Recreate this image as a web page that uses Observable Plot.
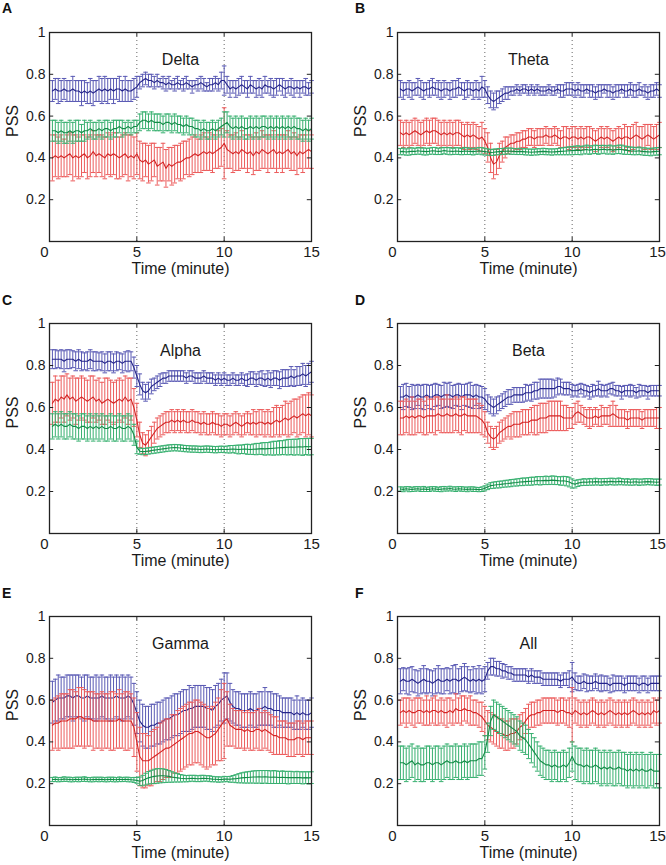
<!DOCTYPE html>
<html><head><meta charset="utf-8">
<script src="https://cdn.jsdelivr.net/npm/d3@7"></script>
<script src="https://cdn.jsdelivr.net/npm/@observablehq/plot@0.6"></script>
<style>
body{margin:0;background:#fff;}
#wrap{position:relative;width:666px;height:865px;overflow:hidden;font-family:"Liberation Sans",Arial,sans-serif;}
.panel{position:absolute;}
.letter{position:absolute;font:bold 14px "Liberation Sans",Arial,sans-serif;color:#111;line-height:14px;}
</style></head><body><div id="wrap"></div>
<script>
// ---- axes ----
const xTicks = [0, 5, 10, 15];
const yTicks = [0.2, 0.4, 0.6, 0.8, 1];
const eventTimes = [5, 10];
const panelLetters = ["A","B","C","D","E","F"];
const panelTitles = ["Delta","Theta","Alpha","Beta","Gamma","All"];
const nSamples = 90; // one sample every 10 s over 15 min

// ---- A: Delta ----
const deltaBlue = [
0.72,0.73,0.72,0.72,0.73,0.72,0.72,0.73,0.72,0.72,
0.71,0.72,0.71,0.72,0.71,0.72,0.73,0.72,0.73,0.72,
0.73,0.72,0.73,0.73,0.72,0.73,0.72,0.72,0.73,0.74,
0.76,0.77,0.78,0.77,0.77,0.76,0.77,0.76,0.76,0.75,
0.76,0.75,0.75,0.76,0.75,0.75,0.76,0.75,0.74,0.75,
0.75,0.76,0.75,0.74,0.75,0.75,0.76,0.75,0.77,0.77,
0.75,0.73,0.74,0.73,0.74,0.75,0.74,0.73,0.75,0.74,
0.73,0.74,0.73,0.75,0.74,0.74,0.73,0.74,0.75,0.74,
0.73,0.74,0.74,0.73,0.74,0.73,0.74,0.74,0.73,0.74];
const deltaBlueErr = [
0.05,0.05,0.06,0.05,0.05,0.05,0.05,0.06,0.05,0.05,
0.06,0.05,0.05,0.06,0.06,0.05,0.06,0.06,0.06,0.06,
0.05,0.06,0.05,0.06,0.05,0.06,0.05,0.05,0.05,0.05,
0.03,0.03,0.03,0.03,0.03,0.03,0.03,0.02,0.03,0.03,
0.03,0.02,0.03,0.03,0.02,0.03,0.03,0.02,0.03,0.02,
0.03,0.03,0.03,0.02,0.03,0.03,0.03,0.03,0.04,0.07,
0.04,0.04,0.03,0.04,0.04,0.04,0.03,0.04,0.04,0.03,
0.04,0.04,0.04,0.04,0.03,0.04,0.04,0.04,0.03,0.04,
0.04,0.03,0.04,0.04,0.03,0.04,0.03,0.04,0.03,0.03];
const deltaRed = [
0.40,0.41,0.40,0.41,0.40,0.41,0.42,0.40,0.41,0.40,
0.41,0.42,0.40,0.41,0.43,0.41,0.42,0.41,0.40,0.42,
0.41,0.42,0.41,0.40,0.41,0.42,0.40,0.41,0.40,0.42,
0.39,0.38,0.39,0.37,0.38,0.39,0.36,0.37,0.38,0.35,
0.37,0.36,0.37,0.38,0.38,0.39,0.40,0.40,0.41,0.42,
0.41,0.42,0.43,0.42,0.43,0.42,0.43,0.44,0.45,0.47,
0.44,0.43,0.42,0.43,0.42,0.44,0.43,0.42,0.43,0.41,
0.43,0.42,0.44,0.43,0.42,0.43,0.44,0.42,0.43,0.42,
0.43,0.44,0.42,0.43,0.41,0.43,0.42,0.43,0.44,0.43];
const deltaRedErr = [
0.11,0.10,0.10,0.10,0.09,0.10,0.10,0.11,0.10,0.10,
0.10,0.09,0.10,0.10,0.10,0.10,0.09,0.10,0.10,0.10,
0.10,0.10,0.11,0.10,0.10,0.10,0.11,0.10,0.10,0.10,
0.09,0.09,0.08,0.09,0.09,0.08,0.09,0.08,0.09,0.09,
0.08,0.09,0.09,0.08,0.09,0.09,0.08,0.09,0.09,0.09,
0.08,0.09,0.09,0.08,0.09,0.09,0.08,0.09,0.09,0.17,
0.09,0.08,0.09,0.09,0.08,0.09,0.08,0.09,0.08,0.09,
0.09,0.08,0.09,0.08,0.09,0.08,0.09,0.09,0.08,0.09,
0.08,0.09,0.08,0.09,0.09,0.08,0.09,0.08,0.09,0.08];
const deltaGreen = [
0.53,0.53,0.52,0.53,0.52,0.52,0.53,0.52,0.53,0.53,
0.52,0.53,0.53,0.54,0.53,0.53,0.54,0.53,0.54,0.54,
0.53,0.54,0.54,0.55,0.54,0.54,0.55,0.54,0.55,0.55,
0.57,0.58,0.58,0.57,0.58,0.57,0.57,0.57,0.56,0.57,
0.57,0.56,0.57,0.56,0.56,0.55,0.56,0.55,0.55,0.54,
0.54,0.53,0.54,0.53,0.53,0.54,0.53,0.54,0.55,0.56,
0.57,0.55,0.54,0.55,0.54,0.55,0.54,0.54,0.55,0.54,
0.55,0.54,0.55,0.55,0.54,0.55,0.54,0.55,0.54,0.55,
0.54,0.55,0.54,0.55,0.54,0.54,0.53,0.54,0.53,0.54];
const deltaGreenErr = [
0.05,0.05,0.05,0.05,0.05,0.05,0.05,0.05,0.05,0.05,
0.04,0.05,0.04,0.04,0.04,0.04,0.04,0.04,0.04,0.04,
0.04,0.04,0.04,0.03,0.04,0.03,0.03,0.03,0.03,0.03,
0.04,0.04,0.04,0.04,0.04,0.04,0.04,0.04,0.04,0.04,
0.04,0.04,0.04,0.04,0.04,0.04,0.04,0.04,0.04,0.04,
0.04,0.04,0.04,0.04,0.04,0.04,0.04,0.04,0.04,0.06,
0.05,0.05,0.05,0.05,0.05,0.05,0.05,0.05,0.05,0.05,
0.05,0.05,0.05,0.05,0.05,0.05,0.05,0.05,0.05,0.05,
0.05,0.05,0.05,0.05,0.05,0.05,0.05,0.05,0.05,0.05];

// ---- B: Theta ----
const thetaBlue = [
0.73,0.72,0.73,0.73,0.72,0.73,0.74,0.73,0.72,0.73,
0.73,0.74,0.73,0.73,0.72,0.73,0.73,0.72,0.73,0.73,
0.74,0.73,0.72,0.73,0.73,0.72,0.73,0.72,0.74,0.73,
0.70,0.68,0.67,0.68,0.69,0.70,0.71,0.71,0.72,0.72,
0.73,0.72,0.73,0.73,0.72,0.73,0.72,0.73,0.72,0.72,
0.72,0.73,0.72,0.72,0.73,0.72,0.72,0.73,0.73,0.73,
0.72,0.73,0.72,0.72,0.73,0.72,0.72,0.71,0.72,0.72,
0.73,0.72,0.72,0.71,0.72,0.72,0.73,0.72,0.72,0.73,
0.72,0.72,0.73,0.72,0.72,0.71,0.72,0.72,0.73,0.72];
const thetaBlueErr = [
0.04,0.04,0.03,0.04,0.04,0.03,0.04,0.04,0.04,0.03,
0.04,0.04,0.03,0.04,0.04,0.04,0.03,0.04,0.04,0.04,
0.04,0.03,0.04,0.04,0.03,0.04,0.04,0.04,0.05,0.04,
0.04,0.04,0.04,0.04,0.03,0.03,0.03,0.03,0.02,0.02,
0.02,0.02,0.02,0.02,0.02,0.02,0.02,0.02,0.02,0.02,
0.02,0.02,0.02,0.02,0.02,0.03,0.03,0.03,0.03,0.03,
0.03,0.03,0.03,0.03,0.02,0.03,0.03,0.03,0.03,0.03,
0.02,0.03,0.03,0.03,0.03,0.03,0.02,0.03,0.03,0.03,
0.03,0.03,0.03,0.02,0.03,0.03,0.03,0.03,0.03,0.03];
const thetaRed = [
0.52,0.51,0.52,0.51,0.52,0.53,0.52,0.51,0.52,0.53,
0.52,0.53,0.53,0.52,0.51,0.52,0.51,0.52,0.51,0.52,
0.52,0.51,0.50,0.51,0.50,0.51,0.50,0.49,0.50,0.48,
0.45,0.40,0.37,0.38,0.41,0.43,0.45,0.46,0.47,0.47,
0.48,0.48,0.49,0.49,0.50,0.50,0.49,0.50,0.50,0.50,
0.51,0.50,0.50,0.51,0.50,0.49,0.50,0.50,0.49,0.50,
0.50,0.49,0.50,0.49,0.50,0.50,0.49,0.48,0.49,0.50,
0.49,0.50,0.49,0.48,0.49,0.50,0.49,0.50,0.50,0.49,
0.50,0.51,0.50,0.49,0.50,0.51,0.50,0.49,0.50,0.51];
const thetaRedErr = [
0.06,0.06,0.06,0.06,0.06,0.06,0.06,0.06,0.06,0.06,
0.06,0.06,0.06,0.06,0.06,0.06,0.06,0.06,0.06,0.06,
0.06,0.06,0.06,0.06,0.06,0.06,0.06,0.06,0.07,0.06,
0.07,0.07,0.07,0.06,0.06,0.05,0.05,0.04,0.04,0.04,
0.04,0.04,0.04,0.04,0.04,0.04,0.04,0.04,0.04,0.04,
0.04,0.04,0.04,0.04,0.04,0.04,0.05,0.05,0.05,0.05,
0.05,0.05,0.05,0.05,0.05,0.05,0.05,0.05,0.05,0.05,
0.05,0.05,0.05,0.05,0.05,0.05,0.05,0.06,0.05,0.06,
0.06,0.06,0.05,0.06,0.06,0.05,0.06,0.06,0.06,0.06];
const thetaGreen = [
0.430,0.431,0.428,0.430,0.432,0.431,0.434,0.432,0.431,0.430,
0.432,0.434,0.433,0.431,0.432,0.435,0.433,0.432,0.431,0.433,
0.432,0.430,0.433,0.432,0.431,0.430,0.432,0.434,0.432,0.430,
0.428,0.426,0.427,0.429,0.430,0.431,0.432,0.433,0.432,0.431,
0.430,0.431,0.430,0.429,0.428,0.427,0.428,0.429,0.430,0.431,
0.430,0.429,0.428,0.429,0.430,0.431,0.432,0.433,0.434,0.435,
0.436,0.437,0.435,0.438,0.440,0.437,0.439,0.441,0.438,0.440,
0.441,0.438,0.440,0.437,0.439,0.441,0.440,0.437,0.436,0.434,
0.433,0.432,0.434,0.431,0.430,0.429,0.428,0.430,0.431,0.432];
const thetaGreenErr = [
0.015,0.016,0.015,0.017,0.016,0.015,0.016,0.015,0.017,0.016,
0.015,0.016,0.017,0.015,0.016,0.015,0.016,0.017,0.015,0.016,
0.016,0.015,0.017,0.016,0.015,0.016,0.015,0.016,0.017,0.016,
0.015,0.014,0.015,0.014,0.015,0.014,0.015,0.014,0.015,0.014,
0.014,0.015,0.014,0.015,0.014,0.015,0.014,0.015,0.014,0.015,
0.015,0.014,0.015,0.014,0.015,0.016,0.017,0.018,0.019,0.020,
0.020,0.021,0.020,0.019,0.021,0.020,0.019,0.020,0.021,0.020,
0.019,0.020,0.021,0.020,0.019,0.020,0.021,0.020,0.019,0.018,
0.018,0.017,0.018,0.017,0.018,0.017,0.018,0.017,0.018,0.017];

// ---- C: Alpha ----
const alphaBlue = [
0.83,0.83,0.83,0.83,0.82,0.83,0.83,0.83,0.82,0.83,
0.82,0.82,0.82,0.83,0.82,0.82,0.82,0.82,0.81,0.82,
0.82,0.81,0.82,0.82,0.81,0.82,0.82,0.82,0.79,0.75,
0.71,0.68,0.67,0.68,0.70,0.71,0.72,0.73,0.74,0.74,
0.75,0.75,0.75,0.75,0.75,0.75,0.74,0.75,0.75,0.74,
0.74,0.74,0.75,0.74,0.74,0.74,0.73,0.74,0.73,0.74,
0.73,0.73,0.74,0.73,0.73,0.74,0.73,0.73,0.74,0.74,
0.73,0.74,0.74,0.73,0.74,0.73,0.74,0.74,0.73,0.74,
0.74,0.74,0.75,0.74,0.75,0.75,0.76,0.75,0.76,0.77];
const alphaBlueErr = [
0.045,0.045,0.04,0.045,0.05,0.045,0.045,0.04,0.045,0.045,
0.045,0.04,0.045,0.045,0.045,0.045,0.04,0.045,0.045,0.045,
0.045,0.045,0.045,0.04,0.045,0.045,0.05,0.045,0.05,0.05,
0.05,0.04,0.04,0.04,0.035,0.03,0.03,0.03,0.025,0.025,
0.025,0.025,0.025,0.025,0.025,0.025,0.025,0.025,0.025,0.025,
0.025,0.025,0.025,0.025,0.025,0.025,0.025,0.025,0.025,0.025,
0.025,0.025,0.025,0.025,0.025,0.025,0.025,0.03,0.03,0.03,
0.03,0.03,0.035,0.03,0.035,0.035,0.035,0.035,0.04,0.04,
0.04,0.04,0.045,0.04,0.045,0.045,0.05,0.05,0.05,0.05];
const alphaRed = [
0.62,0.64,0.63,0.65,0.64,0.66,0.64,0.65,0.63,0.64,
0.65,0.64,0.63,0.64,0.65,0.63,0.64,0.62,0.63,0.64,
0.63,0.62,0.63,0.64,0.63,0.65,0.63,0.64,0.60,0.54,
0.47,0.43,0.42,0.44,0.46,0.48,0.50,0.51,0.52,0.53,
0.53,0.54,0.53,0.54,0.53,0.54,0.53,0.53,0.54,0.53,
0.53,0.52,0.53,0.52,0.52,0.53,0.52,0.52,0.51,0.52,
0.52,0.51,0.52,0.53,0.52,0.51,0.52,0.53,0.52,0.53,
0.52,0.53,0.53,0.52,0.53,0.52,0.53,0.54,0.53,0.54,
0.55,0.54,0.55,0.56,0.55,0.56,0.57,0.56,0.57,0.56];
const alphaRedErr = [
0.10,0.11,0.10,0.10,0.11,0.10,0.10,0.10,0.11,0.10,
0.10,0.10,0.10,0.11,0.10,0.10,0.10,0.10,0.11,0.10,
0.10,0.10,0.10,0.10,0.10,0.10,0.11,0.10,0.09,0.08,
0.06,0.05,0.05,0.05,0.05,0.05,0.05,0.05,0.05,0.05,
0.05,0.05,0.05,0.05,0.05,0.05,0.05,0.05,0.05,0.05,
0.05,0.05,0.05,0.05,0.05,0.05,0.05,0.05,0.05,0.05,
0.05,0.05,0.05,0.05,0.05,0.05,0.05,0.05,0.05,0.06,
0.06,0.06,0.06,0.06,0.06,0.06,0.07,0.07,0.07,0.07,
0.08,0.08,0.08,0.08,0.09,0.09,0.09,0.10,0.10,0.10];
const alphaGreen = [
0.51,0.52,0.51,0.52,0.51,0.51,0.52,0.51,0.51,0.50,
0.51,0.51,0.50,0.51,0.50,0.51,0.50,0.51,0.50,0.50,
0.51,0.50,0.50,0.51,0.50,0.50,0.51,0.50,0.47,0.41,
0.392,0.390,0.391,0.393,0.395,0.397,0.399,0.401,0.403,0.405,
0.407,0.408,0.409,0.408,0.407,0.405,0.404,0.403,0.402,0.402,
0.401,0.400,0.401,0.402,0.401,0.400,0.399,0.400,0.401,0.400,
0.400,0.401,0.402,0.401,0.400,0.401,0.402,0.401,0.400,0.401,
0.402,0.403,0.404,0.403,0.404,0.405,0.406,0.407,0.408,0.409,
0.410,0.411,0.412,0.411,0.412,0.413,0.412,0.414,0.413,0.414];
const alphaGreenErr = [
0.06,0.06,0.06,0.06,0.06,0.06,0.06,0.06,0.06,0.06,
0.06,0.06,0.06,0.06,0.06,0.06,0.06,0.06,0.06,0.06,
0.06,0.06,0.06,0.06,0.06,0.06,0.06,0.06,0.05,0.03,
0.015,0.015,0.015,0.015,0.015,0.015,0.015,0.015,0.015,0.015,
0.015,0.015,0.015,0.015,0.015,0.015,0.015,0.015,0.015,0.015,
0.015,0.015,0.015,0.015,0.015,0.015,0.015,0.015,0.015,0.015,
0.016,0.018,0.017,0.019,0.021,0.020,0.022,0.024,0.023,0.025,
0.027,0.026,0.028,0.030,0.029,0.031,0.033,0.032,0.034,0.033,
0.035,0.037,0.036,0.038,0.037,0.039,0.040,0.038,0.040,0.039];

// ---- D: Beta ----
const betaBlue = [
0.65,0.65,0.66,0.65,0.65,0.65,0.66,0.65,0.65,0.66,
0.65,0.65,0.66,0.66,0.65,0.66,0.66,0.66,0.65,0.66,
0.66,0.65,0.66,0.66,0.66,0.65,0.66,0.65,0.65,0.64,
0.62,0.61,0.60,0.61,0.62,0.63,0.64,0.65,0.65,0.66,
0.66,0.66,0.66,0.67,0.67,0.67,0.68,0.68,0.69,0.69,
0.69,0.69,0.69,0.69,0.70,0.70,0.69,0.69,0.69,0.68,
0.68,0.68,0.69,0.68,0.68,0.67,0.68,0.68,0.69,0.68,
0.68,0.68,0.69,0.69,0.68,0.68,0.67,0.68,0.68,0.68,
0.68,0.67,0.68,0.68,0.68,0.67,0.68,0.68,0.68,0.68];
const betaBlueErr = [
0.05,0.06,0.055,0.05,0.06,0.055,0.05,0.055,0.06,0.05,
0.055,0.06,0.055,0.05,0.055,0.06,0.055,0.06,0.055,0.05,
0.055,0.06,0.05,0.055,0.06,0.055,0.05,0.055,0.05,0.05,
0.04,0.04,0.04,0.04,0.035,0.035,0.035,0.035,0.035,0.035,
0.035,0.035,0.035,0.04,0.035,0.04,0.04,0.04,0.045,0.045,
0.045,0.045,0.045,0.04,0.04,0.035,0.03,0.03,0.03,0.03,
0.025,0.03,0.025,0.03,0.025,0.03,0.03,0.025,0.035,0.03,
0.025,0.03,0.025,0.03,0.025,0.025,0.03,0.025,0.025,0.03,
0.025,0.025,0.03,0.025,0.025,0.03,0.025,0.025,0.025,0.025];
const betaRed = [
0.55,0.55,0.56,0.55,0.56,0.55,0.56,0.56,0.55,0.56,
0.56,0.56,0.56,0.57,0.56,0.56,0.57,0.56,0.56,0.57,
0.56,0.56,0.57,0.56,0.56,0.56,0.56,0.55,0.54,0.52,
0.48,0.46,0.45,0.46,0.48,0.49,0.50,0.51,0.51,0.52,
0.52,0.52,0.53,0.53,0.53,0.54,0.54,0.54,0.55,0.55,
0.55,0.56,0.56,0.56,0.56,0.56,0.55,0.55,0.55,0.55,
0.57,0.58,0.57,0.56,0.55,0.55,0.55,0.56,0.55,0.56,
0.56,0.56,0.56,0.57,0.56,0.55,0.55,0.55,0.54,0.55,
0.55,0.55,0.55,0.54,0.55,0.55,0.55,0.55,0.55,0.55];
const betaRedErr = [
0.08,0.08,0.08,0.08,0.09,0.08,0.08,0.08,0.08,0.09,
0.08,0.08,0.09,0.08,0.08,0.08,0.09,0.08,0.08,0.08,
0.08,0.09,0.08,0.08,0.08,0.08,0.08,0.07,0.07,0.06,
0.05,0.05,0.05,0.05,0.05,0.05,0.05,0.05,0.06,0.06,
0.06,0.06,0.06,0.06,0.06,0.06,0.07,0.07,0.07,0.07,
0.07,0.07,0.07,0.07,0.07,0.07,0.06,0.06,0.05,0.05,
0.05,0.05,0.04,0.04,0.04,0.05,0.04,0.04,0.04,0.05,
0.04,0.04,0.05,0.06,0.05,0.04,0.04,0.04,0.04,0.04,
0.04,0.04,0.04,0.04,0.04,0.04,0.04,0.04,0.05,0.05];
const betaGreen = [
0.212,0.210,0.213,0.211,0.210,0.212,0.213,0.211,0.212,0.210,
0.211,0.213,0.212,0.210,0.211,0.213,0.212,0.214,0.212,0.211,
0.213,0.212,0.211,0.210,0.212,0.211,0.210,0.209,0.211,0.215,
0.222,0.228,0.230,0.232,0.233,0.235,0.237,0.238,0.240,0.242,
0.243,0.245,0.246,0.247,0.248,0.249,0.250,0.252,0.251,0.252,
0.253,0.252,0.254,0.253,0.252,0.250,0.251,0.249,0.245,0.238,
0.235,0.240,0.243,0.245,0.244,0.246,0.245,0.247,0.246,0.245,
0.247,0.246,0.248,0.247,0.246,0.248,0.247,0.245,0.246,0.244,
0.245,0.246,0.244,0.245,0.246,0.247,0.246,0.245,0.244,0.245];
const betaGreenErr = [
0.010,0.011,0.010,0.012,0.010,0.011,0.010,0.011,0.012,0.010,
0.011,0.010,0.011,0.010,0.012,0.011,0.010,0.011,0.010,0.011,
0.010,0.011,0.010,0.011,0.010,0.011,0.010,0.010,0.011,0.012,
0.013,0.014,0.015,0.015,0.016,0.015,0.016,0.016,0.017,0.016,
0.017,0.017,0.018,0.017,0.018,0.019,0.018,0.019,0.020,0.019,
0.020,0.019,0.020,0.020,0.019,0.020,0.021,0.022,0.023,0.022,
0.018,0.016,0.015,0.016,0.015,0.016,0.015,0.016,0.015,0.016,
0.015,0.016,0.015,0.016,0.015,0.016,0.015,0.014,0.015,0.014,
0.015,0.014,0.015,0.014,0.015,0.014,0.015,0.014,0.015,0.014];

// ---- E: Gamma ----
const gammaBlue = [
0.59,0.60,0.61,0.61,0.61,0.62,0.62,0.61,0.62,0.62,
0.61,0.61,0.62,0.61,0.61,0.61,0.61,0.62,0.61,0.61,
0.61,0.61,0.62,0.61,0.61,0.61,0.62,0.61,0.58,0.54,
0.50,0.48,0.47,0.47,0.48,0.48,0.49,0.49,0.50,0.51,
0.51,0.52,0.53,0.53,0.54,0.55,0.55,0.56,0.56,0.57,
0.57,0.57,0.57,0.56,0.56,0.55,0.57,0.58,0.60,0.61,
0.62,0.59,0.57,0.56,0.56,0.55,0.55,0.55,0.56,0.55,
0.55,0.56,0.56,0.57,0.56,0.56,0.55,0.55,0.55,0.54,
0.54,0.54,0.54,0.53,0.54,0.53,0.54,0.53,0.53,0.54];
const gammaBlueErr = [
0.10,0.10,0.11,0.10,0.10,0.10,0.10,0.11,0.10,0.10,
0.10,0.11,0.10,0.10,0.10,0.11,0.10,0.10,0.10,0.10,
0.11,0.10,0.10,0.10,0.11,0.10,0.10,0.10,0.10,0.10,
0.10,0.10,0.10,0.10,0.10,0.10,0.10,0.10,0.10,0.10,
0.10,0.10,0.10,0.10,0.10,0.10,0.10,0.11,0.10,0.10,
0.10,0.10,0.10,0.10,0.10,0.10,0.10,0.10,0.10,0.12,
0.11,0.09,0.08,0.08,0.08,0.08,0.08,0.08,0.08,0.08,
0.08,0.08,0.08,0.09,0.08,0.08,0.08,0.08,0.07,0.07,
0.07,0.07,0.07,0.07,0.08,0.07,0.07,0.07,0.07,0.07];
const gammaRed = [
0.48,0.49,0.49,0.50,0.50,0.50,0.51,0.51,0.51,0.52,
0.52,0.51,0.51,0.51,0.50,0.50,0.50,0.50,0.50,0.50,
0.50,0.50,0.50,0.51,0.50,0.50,0.50,0.50,0.47,0.40,
0.33,0.31,0.31,0.31,0.32,0.33,0.34,0.35,0.36,0.37,
0.37,0.38,0.39,0.40,0.41,0.42,0.43,0.44,0.44,0.45,
0.45,0.44,0.43,0.42,0.42,0.43,0.44,0.46,0.48,0.50,
0.51,0.48,0.47,0.46,0.46,0.46,0.45,0.46,0.45,0.45,
0.46,0.46,0.45,0.46,0.45,0.44,0.43,0.43,0.42,0.42,
0.42,0.41,0.41,0.41,0.42,0.42,0.41,0.42,0.42,0.42];
const gammaRedErr = [
0.12,0.12,0.13,0.13,0.13,0.13,0.14,0.14,0.13,0.14,
0.14,0.14,0.13,0.13,0.14,0.13,0.13,0.14,0.13,0.13,
0.14,0.14,0.13,0.14,0.13,0.14,0.14,0.13,0.14,0.14,
0.14,0.13,0.13,0.12,0.13,0.13,0.13,0.14,0.14,0.14,
0.14,0.15,0.14,0.15,0.15,0.15,0.15,0.15,0.15,0.15,
0.15,0.15,0.15,0.15,0.14,0.14,0.15,0.15,0.17,0.18,
0.13,0.10,0.09,0.09,0.09,0.09,0.09,0.09,0.09,0.09,
0.09,0.10,0.09,0.09,0.09,0.09,0.09,0.09,0.08,0.08,
0.08,0.08,0.08,0.08,0.08,0.08,0.08,0.08,0.08,0.08];
const gammaGreen = [
0.220,0.221,0.219,0.220,0.222,0.221,0.220,0.219,0.221,0.220,
0.221,0.222,0.220,0.219,0.220,0.221,0.220,0.221,0.219,0.220,
0.221,0.220,0.219,0.221,0.220,0.221,0.220,0.219,0.218,0.216,
0.212,0.215,0.222,0.228,0.232,0.235,0.237,0.238,0.238,0.237,
0.235,0.232,0.230,0.228,0.226,0.225,0.224,0.225,0.226,0.225,
0.224,0.225,0.226,0.225,0.224,0.222,0.221,0.220,0.220,0.222,
0.222,0.221,0.223,0.224,0.226,0.228,0.229,0.230,0.231,0.232,
0.232,0.233,0.232,0.233,0.232,0.231,0.232,0.231,0.230,0.231,
0.230,0.229,0.230,0.229,0.230,0.229,0.228,0.229,0.228,0.229];
const gammaGreenErr = [
0.010,0.011,0.010,0.010,0.011,0.010,0.011,0.010,0.010,0.011,
0.010,0.011,0.010,0.010,0.011,0.010,0.011,0.010,0.010,0.011,
0.010,0.011,0.010,0.011,0.010,0.010,0.011,0.010,0.012,0.014,
0.020,0.025,0.028,0.030,0.032,0.034,0.035,0.034,0.033,0.031,
0.028,0.025,0.022,0.020,0.018,0.016,0.015,0.015,0.014,0.015,
0.014,0.015,0.014,0.013,0.014,0.013,0.012,0.013,0.012,0.013,
0.012,0.014,0.016,0.019,0.022,0.024,0.026,0.027,0.028,0.029,
0.030,0.030,0.031,0.030,0.031,0.030,0.031,0.030,0.029,0.030,
0.029,0.030,0.029,0.028,0.029,0.028,0.029,0.028,0.029,0.028];

// ---- F: All ----
const allBlue = [
0.69,0.70,0.69,0.69,0.70,0.69,0.68,0.69,0.70,0.69,
0.69,0.68,0.69,0.70,0.69,0.69,0.70,0.69,0.70,0.70,
0.69,0.70,0.71,0.70,0.69,0.70,0.69,0.70,0.69,0.70,
0.74,0.76,0.76,0.75,0.75,0.74,0.74,0.73,0.73,0.72,
0.72,0.72,0.72,0.72,0.71,0.72,0.71,0.71,0.71,0.70,
0.70,0.70,0.70,0.70,0.70,0.69,0.70,0.70,0.70,0.71,
0.69,0.68,0.68,0.69,0.68,0.68,0.68,0.69,0.68,0.68,
0.68,0.68,0.67,0.68,0.68,0.68,0.68,0.67,0.68,0.68,
0.68,0.68,0.67,0.68,0.68,0.67,0.68,0.68,0.68,0.68];
const allBlueErr = [
0.06,0.055,0.06,0.065,0.06,0.055,0.06,0.06,0.065,0.06,
0.055,0.06,0.06,0.065,0.06,0.06,0.055,0.06,0.065,0.07,
0.06,0.06,0.065,0.06,0.055,0.06,0.06,0.065,0.06,0.06,
0.04,0.04,0.04,0.035,0.035,0.035,0.03,0.03,0.03,0.03,
0.03,0.03,0.03,0.03,0.03,0.03,0.03,0.03,0.03,0.03,
0.03,0.03,0.03,0.03,0.03,0.03,0.03,0.03,0.04,0.07,
0.04,0.035,0.035,0.035,0.04,0.035,0.035,0.035,0.035,0.04,
0.035,0.035,0.035,0.04,0.035,0.035,0.035,0.035,0.035,0.035,
0.035,0.035,0.035,0.035,0.035,0.035,0.035,0.035,0.035,0.035];
const allRed = [
0.54,0.55,0.54,0.55,0.54,0.54,0.55,0.55,0.54,0.55,
0.54,0.55,0.55,0.54,0.55,0.54,0.54,0.55,0.54,0.56,
0.55,0.55,0.56,0.55,0.55,0.54,0.54,0.53,0.52,0.50,
0.48,0.47,0.46,0.45,0.44,0.44,0.43,0.43,0.44,0.44,
0.45,0.47,0.48,0.50,0.52,0.53,0.53,0.54,0.54,0.55,
0.55,0.55,0.55,0.55,0.54,0.55,0.55,0.54,0.54,0.53,
0.55,0.54,0.53,0.54,0.53,0.54,0.55,0.54,0.53,0.54,
0.53,0.54,0.55,0.54,0.53,0.54,0.53,0.54,0.53,0.54,
0.55,0.54,0.53,0.54,0.53,0.54,0.53,0.55,0.54,0.55];
const allRedErr = [
0.06,0.06,0.07,0.06,0.06,0.07,0.06,0.06,0.06,0.07,
0.06,0.06,0.07,0.06,0.06,0.06,0.07,0.06,0.06,0.07,
0.06,0.07,0.06,0.06,0.07,0.06,0.06,0.06,0.07,0.07,
0.07,0.07,0.07,0.07,0.07,0.07,0.07,0.07,0.07,0.07,
0.06,0.06,0.06,0.06,0.06,0.06,0.06,0.06,0.06,0.06,
0.06,0.06,0.06,0.06,0.06,0.06,0.06,0.06,0.07,0.13,
0.06,0.06,0.06,0.06,0.06,0.06,0.06,0.06,0.06,0.06,
0.06,0.06,0.06,0.06,0.06,0.06,0.06,0.06,0.06,0.06,
0.06,0.06,0.06,0.06,0.06,0.06,0.06,0.06,0.06,0.06];
const allGreen = [
0.30,0.30,0.29,0.30,0.31,0.29,0.30,0.29,0.29,0.30,
0.30,0.29,0.30,0.30,0.29,0.30,0.31,0.30,0.30,0.31,
0.30,0.30,0.31,0.30,0.31,0.31,0.31,0.32,0.32,0.35,
0.42,0.50,0.53,0.52,0.51,0.50,0.49,0.48,0.47,0.46,
0.45,0.43,0.42,0.41,0.39,0.37,0.35,0.33,0.31,0.30,
0.29,0.29,0.28,0.29,0.28,0.28,0.29,0.28,0.30,0.33,
0.30,0.29,0.29,0.28,0.29,0.28,0.28,0.29,0.28,0.27,
0.28,0.27,0.28,0.27,0.27,0.28,0.27,0.27,0.26,0.27,
0.26,0.27,0.26,0.27,0.26,0.26,0.27,0.26,0.26,0.26];
const allGreenErr = [
0.08,0.08,0.08,0.08,0.08,0.08,0.08,0.08,0.08,0.08,
0.08,0.08,0.08,0.08,0.08,0.08,0.08,0.08,0.08,0.08,
0.08,0.08,0.08,0.08,0.08,0.08,0.08,0.08,0.08,0.08,
0.07,0.07,0.07,0.07,0.07,0.07,0.07,0.07,0.07,0.07,
0.07,0.07,0.07,0.07,0.07,0.07,0.07,0.07,0.07,0.07,
0.07,0.07,0.07,0.07,0.07,0.07,0.07,0.07,0.07,0.07,
0.08,0.08,0.08,0.08,0.08,0.08,0.08,0.08,0.08,0.08,
0.08,0.08,0.08,0.08,0.08,0.08,0.08,0.08,0.08,0.08,
0.08,0.08,0.08,0.08,0.08,0.08,0.08,0.08,0.08,0.08];

// ---- assembly ----
const seriesColors = {
  blue:  {bar: "#5a5ab4", line: "#24248a"},
  red:   {bar: "#ec5c5c", line: "#d42424"},
  green: {bar: "#38b070", line: "#128c46"}
};
const panelSeries = [
  {blue:[deltaBlue,deltaBlueErr], red:[deltaRed,deltaRedErr], green:[deltaGreen,deltaGreenErr]},
  {blue:[thetaBlue,thetaBlueErr], red:[thetaRed,thetaRedErr], green:[thetaGreen,thetaGreenErr]},
  {blue:[alphaBlue,alphaBlueErr], red:[alphaRed,alphaRedErr], green:[alphaGreen,alphaGreenErr]},
  {blue:[betaBlue,betaBlueErr],   red:[betaRed,betaRedErr],   green:[betaGreen,betaGreenErr]},
  {blue:[gammaBlue,gammaBlueErr], red:[gammaRed,gammaRedErr], green:[gammaGreen,gammaGreenErr]},
  {blue:[allBlue,allBlueErr],     red:[allRed,allRedErr],     green:[allGreen,allGreenErr]}
];
const layout = [
  {left:0,   top:0,   h:290, mt:32, mb:49, ml:49, mr:22, lx:2,   ly:1,   lastDx:0},
  {left:333, top:0,   h:290, mt:32, mb:49, ml:64, mr:7,  lx:355, ly:1,   lastDx:-2},
  {left:0,   top:290, h:290, mt:33, mb:47, ml:49, mr:22, lx:2,   ly:293, lastDx:0},
  {left:333, top:290, h:290, mt:33, mb:47, ml:64, mr:7,  lx:355, ly:293, lastDx:-2},
  {left:0,   top:580, h:285, mt:36, mb:40, ml:49, mr:22, lx:2,   ly:586, lastDx:0},
  {left:333, top:580, h:285, mt:36, mb:40, ml:64, mr:7,  lx:355, ly:586, lastDx:-2}
];

const capSymbol = {draw(ctx){ ctx.moveTo(-2.3,0); ctx.lineTo(2.3,0); }};
const sampleTime = i => (i + 1) * 10 / 60;

function seriesMarks([mean, err], c) {
  const rows = mean.map((m, i) => {
    const e = err[i] ?? err[err.length - 1];
    return {t: sampleTime(i), m, lo: m - e, hi: m + e};
  });
  return [
    Plot.ruleX(rows, {x: "t", y1: "lo", y2: "hi", stroke: c.bar, strokeWidth: 1}),
    Plot.dot(rows, {x: "t", y: "hi", symbol: capSymbol, stroke: c.bar, fill: "none", strokeWidth: 1}),
    Plot.dot(rows, {x: "t", y: "lo", symbol: capSymbol, stroke: c.bar, fill: "none", strokeWidth: 1}),
    Plot.line(rows, {x: "t", y: "m", stroke: c.line, strokeWidth: 1.1})
  ];
}

const wrap = document.getElementById("wrap");
const ink = "#1a1a1a";
const xAxisOpts = {tickSize: 0, tickPadding: 5, fontSize: 15, label: null, tickFormat: d => String(d)};
panelSeries.forEach((ps, k) => {
  const L = layout[k];
  const chart = Plot.plot({
    width: 333, height: L.h,
    marginTop: L.mt, marginBottom: L.mb, marginLeft: L.ml, marginRight: L.mr,
    x: {domain: [0, 15]},
    y: {domain: [0, 1]},
    style: {background: "transparent", color: ink, fontFamily: "Liberation Sans, Arial, sans-serif", overflow: "visible"},
    marks: [
      Plot.ruleX(eventTimes, {stroke: "#666", strokeDasharray: "1,3", strokeWidth: 1}),
      ...seriesMarks(ps.blue, seriesColors.blue),
      ...seriesMarks(ps.red, seriesColors.red),
      ...seriesMarks(ps.green, seriesColors.green),
      Plot.frame({stroke: "#222", strokeWidth: 1.3}),
      Plot.ruleY(yTicks, {x1: 0, x2: 0.24, stroke: "#222"}),
      Plot.ruleY(yTicks, {x1: 14.76, x2: 15, stroke: "#222"}),
      Plot.ruleX(xTicks, {y1: 0, y2: 0.02, stroke: "#222"}),
      Plot.ruleX(xTicks, {y1: 0.98, y2: 1, stroke: "#222"}),
      Plot.axisX(xTicks.slice(0, 1), {...xAxisOpts, dx: -5}),
      Plot.axisX(xTicks.slice(1, 3), xAxisOpts),
      Plot.axisX(xTicks.slice(3), {...xAxisOpts, dx: L.lastDx}),
      Plot.axisY(yTicks, {tickSize: 0, tickPadding: 4, fontSize: 14, label: null, tickFormat: d3.format("~g")}),
      Plot.text([panelTitles[k]], {text: d => d, frameAnchor: "top", dy: 21, fontSize: 16, fill: ink}),
      Plot.text(["PSS"], {text: d => d, frameAnchor: "left", dx: -37, rotate: -90, fontSize: 16, fill: ink}),
      Plot.text(["Time (minute)"], {text: d => d, frameAnchor: "bottom", dy: 32, fontSize: 16, fill: ink})
    ]
  });
  const div = document.createElement("div");
  div.className = "panel";
  div.style.left = L.left + "px";
  div.style.top = L.top + "px";
  div.appendChild(chart);
  wrap.appendChild(div);
  const lab = document.createElement("div");
  lab.className = "letter";
  lab.style.left = L.lx + "px";
  lab.style.top = L.ly + "px";
  lab.textContent = panelLetters[k];
  wrap.appendChild(lab);
});
</script>
</body></html>
